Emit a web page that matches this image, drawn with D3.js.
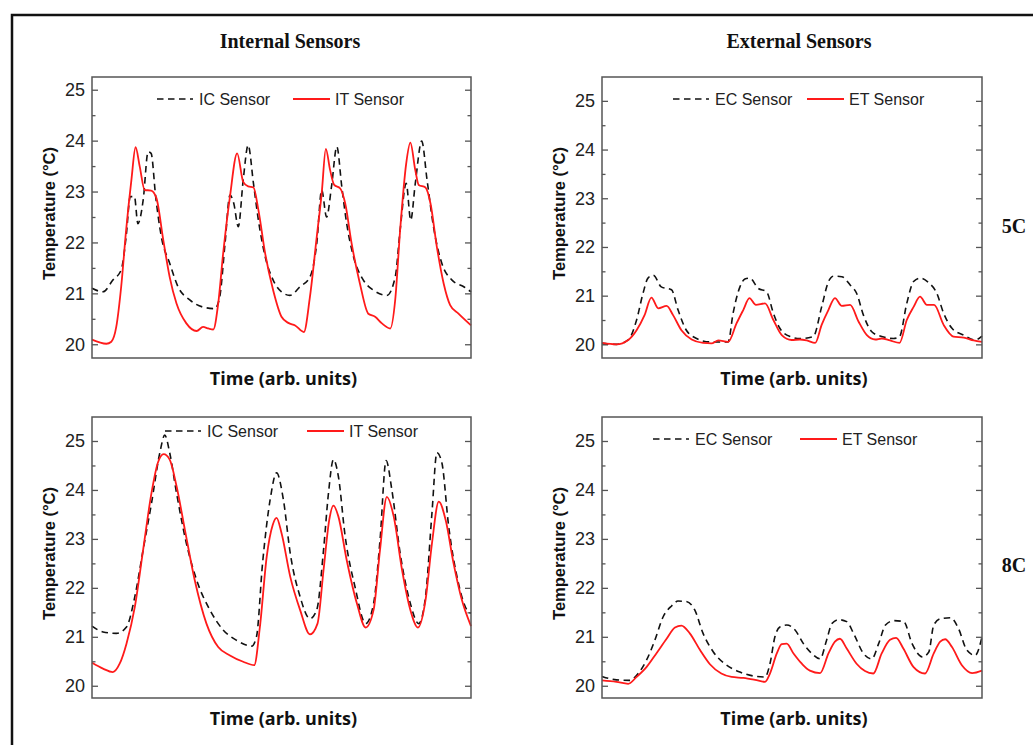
<!DOCTYPE html>
<html>
<head>
<meta charset="utf-8">
<script src="https://cdn.jsdelivr.net/npm/d3@7"></script>
<style>
  body { margin: 0; background: #fff; }
  svg { display: block; }
</style>
</head>
<body>
<svg id="chart" width="1033" height="745"></svg>
<script>
// ---- data (time in arbitrary units 0..100, temperature in °C) ----

// 5C internal
const icTime5 = [0,2.9,5.5,7.7,9.0,10.1,11.2,12.1,13.5,14.8,15.6,16.8,18.3,20.5,22.7,25.8,29.3,32.4,33.7,35.1,36.4,37.4,38.6,39.9,41.2,42.6,43.9,45.7,47.8,50.0,52.2,54.9,57.5,59.3,60.6,61.9,63.2,64.6,65.9,67.2,69.0,71.6,74.3,77.8,80.0,81.3,82.9,84.1,85.3,87.0,88.4,90.1,92.3,95.0,98.1,100];
const icTemp5 = [21.1,21.03,21.26,21.46,22.11,22.9,22.9,22.37,22.83,23.78,23.75,22.9,22.11,21.59,21.13,20.87,20.73,20.7,20.93,21.98,22.93,22.77,22.31,23.23,23.91,23.16,22.44,21.72,21.26,21.03,20.96,21.13,21.32,21.98,23.03,22.5,23.1,23.88,23.1,22.37,21.72,21.26,21.06,20.96,21.32,22.24,23.16,22.44,23.16,23.99,23.23,22.31,21.59,21.26,21.13,21.03];
const itTime5 = [0,3.8,5.1,6.4,7.7,9.0,10.4,11.5,12.6,13.9,15.6,17.0,18.8,20.5,22.3,24.9,27.6,29.3,30.7,32.0,33.3,34.6,36.4,38.3,39.9,41.2,42.6,43.9,45.7,47.8,50.0,51.8,53.6,55.9,57.5,59.3,60.6,61.7,62.8,63.9,65.5,66.8,68.5,70.7,72.9,74.7,76.5,78.7,80.0,81.3,82.9,84.0,85.3,86.2,88.0,89.3,91.0,92.8,94.5,96.7,100];
const itTemp5 = [20.09,20.01,20.05,20.34,21.13,22.24,23.23,23.87,23.49,23.03,23.02,22.87,22.05,21.32,20.8,20.41,20.26,20.34,20.31,20.29,20.8,21.78,22.9,23.75,23.19,23.1,23.08,22.64,21.78,21.06,20.54,20.42,20.37,20.24,20.93,22.11,22.96,23.84,23.43,23.13,23.06,22.77,21.98,21.19,20.6,20.54,20.41,20.31,20.87,22.24,23.55,23.96,23.42,23.13,23.08,22.77,21.91,21.19,20.77,20.6,20.37];

// 5C external
const ecTime5 = [0,3.8,6.9,9.1,10.8,12.1,13.5,15.6,18.3,20.0,22.2,24.9,28.4,31.9,33.2,34.5,36.3,37.6,38.9,41.1,43.3,45.1,46.8,49.5,52.1,55.6,57.8,59.6,60.9,63.1,65.3,67.0,68.8,71.0,73.6,76.7,78.3,80.2,82.0,83.7,85.9,88.1,89.9,92.1,95.2,98.2,100];
const ecTemp5 = [20.02,20.0,20.09,20.5,21.05,21.36,21.42,21.18,21.12,20.71,20.29,20.12,20.05,20.05,20.05,20.64,21.18,21.34,21.36,21.15,21.08,20.64,20.33,20.16,20.12,20.16,20.77,21.29,21.4,21.39,21.22,21.05,20.6,20.26,20.16,20.12,20.16,20.84,21.29,21.36,21.27,21.05,20.64,20.33,20.19,20.09,20.17];
const etTime5 = [0,3.8,6.9,9.1,11.2,13.0,14.8,17.0,18.7,20.9,23.6,26.6,28.8,30.6,33.2,35.4,37.2,38.8,40.5,42.9,45.1,47.3,49.9,52.1,53.9,56.1,57.8,59.6,61.3,63.1,65.3,67.5,69.7,71.9,73.6,75.8,78.3,80.2,82.0,83.7,85.5,87.4,89.9,92.5,95.2,97.8,100];
const etTemp5 = [20.03,20.0,20.09,20.29,20.6,20.96,20.74,20.79,20.6,20.29,20.1,20.03,20.02,20.08,20.05,20.43,20.71,20.95,20.81,20.84,20.5,20.19,20.09,20.1,20.08,20.03,20.4,20.71,20.95,20.79,20.81,20.47,20.19,20.1,20.12,20.08,20.03,20.5,20.77,20.98,20.81,20.81,20.4,20.16,20.14,20.08,20.05];

// 8C internal
const icTime8 = [0,2.9,6.4,9.1,11.3,13.5,15.7,17.9,19.2,20.5,22.3,24.9,27.6,31.1,34.6,38.1,42.1,43.4,45.0,47.0,48.7,50.5,52.3,54.9,57.5,59.3,61.1,62.4,63.7,65.0,66.8,69.4,72.2,74.3,76.0,77.6,79.1,81.3,84.0,86.2,88.0,89.7,91.0,92.3,94.1,96.7,98.9,100];
const icTemp8 = [21.22,21.1,21.07,21.2,21.82,22.78,23.73,24.76,25.12,24.76,23.94,22.91,22.16,21.55,21.14,20.93,20.81,21.0,22.5,23.8,24.35,23.8,22.71,21.82,21.37,21.55,22.78,23.94,24.62,24.28,23.05,22.02,21.27,21.68,22.98,24.6,24.01,22.71,21.68,21.27,21.82,23.53,24.76,24.56,23.26,22.09,21.55,21.48];
const itTime8 = [0,2.9,5.5,7.3,9.1,11.3,13.5,15.7,17.4,18.9,20.5,22.3,24.5,27.1,30.2,33.3,36.4,39.9,42.8,44.3,46.1,47.7,48.7,50.0,52.3,54.9,57.5,59.5,61.1,62.6,63.7,65.0,67.2,69.9,72.2,74.3,76.0,77.8,79.6,81.8,84.0,86.0,88.0,89.7,91.5,93.3,95.4,97.6,100];
const itTemp8 = [20.47,20.35,20.28,20.45,20.86,21.61,22.78,23.94,24.56,24.73,24.62,24.08,23.19,22.16,21.27,20.79,20.62,20.49,20.42,21.2,22.64,23.29,23.43,23.12,22.23,21.55,21.05,21.27,22.37,23.39,23.68,23.46,22.57,21.68,21.19,21.55,22.78,23.86,23.46,22.37,21.55,21.19,21.75,22.91,23.76,23.39,22.5,21.75,21.22];

// 8C external
const ecTime8 = [0,3.8,7.3,9.5,11.7,13.9,16.1,18.3,20.0,22.2,24.4,26.6,29.3,32.3,36.3,39.8,42.9,44.2,45.5,46.8,48.6,50.8,53.0,55.2,57.4,59.1,60.5,62.2,64.4,66.2,68.8,71.0,72.8,74.6,76.8,79.4,81.6,84.3,86.0,87.3,89.1,91.7,93.8,96.0,98.2,100];
const ecTemp8 = [20.19,20.12,20.11,20.25,20.52,20.93,21.41,21.63,21.73,21.72,21.55,21.07,20.69,20.45,20.28,20.2,20.18,20.45,21.0,21.2,21.24,21.14,20.86,20.66,20.55,20.93,21.27,21.35,21.31,21.07,20.66,20.55,20.86,21.24,21.33,21.31,20.86,20.59,20.69,21.24,21.37,21.39,21.17,20.73,20.62,21.0];
const etTime8 = [0,3.8,6.9,9.1,11.7,14.3,17.0,19.2,20.9,23.1,25.8,28.4,31.4,34.1,37.2,40.3,42.9,44.2,46.0,47.3,48.6,50.4,52.6,54.7,57.4,59.6,61.3,62.6,64.4,67.0,69.2,71.4,73.6,75.8,77.4,79.3,82.0,85.0,87.3,89.0,90.3,92.1,94.7,97.4,100];
const etTemp8 = [20.11,20.08,20.04,20.18,20.38,20.66,20.96,21.19,21.23,21.07,20.73,20.44,20.25,20.18,20.16,20.12,20.08,20.25,20.66,20.85,20.86,20.66,20.45,20.31,20.26,20.66,20.9,20.96,20.76,20.45,20.3,20.25,20.66,20.94,20.98,20.76,20.38,20.25,20.66,20.9,20.95,20.79,20.42,20.26,20.31];

const yTicks = [20, 21, 22, 23, 24, 25];
const columnTitles = ["Internal Sensors", "External Sensors"];
const rowLabels = ["5C", "8C"];

// ---- layout ----
const svg = d3.select('#chart');

const panels = [
    { x0: 92,  x1: 471, y0: 77,  y1: 358, dom: [19.73, 25.25], legend: [65, 201, 99],
      dashed: { t: icTime5, v: icTemp5, name: "IC Sensor" }, solid: { t: itTime5, v: itTemp5, name: "IT Sensor" } },
    { x0: 602, x1: 982, y0: 77,  y1: 358, dom: [19.72, 25.49], legend: [71, 205, 99],
      dashed: { t: ecTime5, v: ecTemp5, name: "EC Sensor" }, solid: { t: etTime5, v: etTemp5, name: "ET Sensor" } },
    { x0: 92,  x1: 471, y0: 417, y1: 698, dom: [19.75, 25.49], legend: [73, 215, 431],
      dashed: { t: icTime8, v: icTemp8, name: "IC Sensor" }, solid: { t: itTime8, v: itTemp8, name: "IT Sensor" } },
    { x0: 602, x1: 982, y0: 417, y1: 698, dom: [19.75, 25.49], legend: [51, 198, 439],
      dashed: { t: ecTime8, v: ecTemp8, name: "EC Sensor" }, solid: { t: etTime8, v: etTemp8, name: "ET Sensor" } }
];

// outer frame
svg.append('rect')
    .attr('x', 12).attr('y', 15)
    .attr('width', 1100).attr('height', 800)
    .attr('fill', 'none')
    .attr('stroke', '#111')
    .attr('stroke-width', 2.5);

panels.forEach(p => {
    const x = d3.scaleLinear().domain([0, 100]).range([p.x0, p.x1]);
    const y = d3.scaleLinear().domain(p.dom).range([p.y1, p.y0]);
    const g = svg.append('g');

    // ticks, left and right, pointing inward
    const minor = d3.range(20, 25.51, 0.5).filter(v => v % 1 !== 0 && v >= p.dom[0] && v <= p.dom[1]);
    g.append('g')
        .attr('transform', 'translate(' + p.x0 + ',0)')
        .call(d3.axisRight(y).tickValues(yTicks).tickSize(6).tickFormat(''))
        .call(a => a.select('.domain').remove());
    g.append('g')
        .attr('transform', 'translate(' + p.x0 + ',0)')
        .call(d3.axisRight(y).tickValues(minor).tickSize(3.5).tickFormat(''))
        .call(a => a.select('.domain').remove());
    g.append('g')
        .attr('transform', 'translate(' + p.x1 + ',0)')
        .call(d3.axisLeft(y).tickValues(yTicks).tickSize(6).tickFormat(''))
        .call(a => a.select('.domain').remove());
    g.append('g')
        .attr('transform', 'translate(' + p.x1 + ',0)')
        .call(d3.axisLeft(y).tickValues(minor).tickSize(3.5).tickFormat(''))
        .call(a => a.select('.domain').remove());
    g.selectAll('.tick line').attr('stroke', '#555').attr('stroke-width', 1.3);

    // tick labels
    g.selectAll('text.ylab').data(yTicks)
        .join('text')
        .attr('class', 'ylab')
        .attr('x', p.x0 - 7)
        .attr('y', d => y(d))
        .attr('dy', '0.36em')
        .attr('text-anchor', 'end')
        .style('font-family', '"Liberation Sans", Arial, sans-serif')
        .style('font-size', '18px')
        .attr('fill', '#222')
        .text(d => d);

    // lines
    const line = d3.line()
        .x(d => x(d[0]))
        .y(d => y(d[1]))
        .curve(d3.curveMonotoneX);

    g.append('path')
        .datum(p.dashed.t.map((t, i) => [t, p.dashed.v[i]]))
        .attr('d', line)
        .attr('fill', 'none')
        .attr('stroke', '#111')
        .attr('stroke-width', 1.6)
        .attr('stroke-dasharray', '6.5,4.5');

    g.append('path')
        .datum(p.solid.t.map((t, i) => [t, p.solid.v[i]]))
        .attr('d', line)
        .attr('fill', 'none')
        .attr('stroke', '#ff1a1a')
        .attr('stroke-width', 1.8);

    // plot frame
    g.append('rect')
        .attr('x', p.x0).attr('y', p.y0)
        .attr('width', p.x1 - p.x0).attr('height', p.y1 - p.y0)
        .attr('fill', 'none')
        .attr('stroke', '#555')
        .attr('stroke-width', 1.5);

    // legend
    const lx = p.x0 + p.legend[0], rx = p.x0 + p.legend[1], ly = p.legend[2];
    g.append('line')
        .attr('x1', lx).attr('x2', lx + 36).attr('y1', ly).attr('y2', ly)
        .attr('stroke', '#111').attr('stroke-width', 1.6).attr('stroke-dasharray', '6.5,4.5');
    g.append('text')
        .attr('x', lx + 42).attr('y', ly).attr('dy', '0.36em')
        .style('font-family', '"Liberation Sans", Arial, sans-serif')
        .style('font-size', '16px').attr('fill', '#222')
        .text(p.dashed.name);
    g.append('line')
        .attr('x1', rx).attr('x2', rx + 37).attr('y1', ly).attr('y2', ly)
        .attr('stroke', '#ff1a1a').attr('stroke-width', 1.8);
    g.append('text')
        .attr('x', rx + 42).attr('y', ly).attr('dy', '0.36em')
        .style('font-family', '"Liberation Sans", Arial, sans-serif')
        .style('font-size', '16px').attr('fill', '#222')
        .text(p.solid.name);

    // axis titles
    g.append('text')
        .attr('transform', 'translate(' + (p.x0 - 37) + ',' + ((p.y0 + p.y1) / 2 - 4) + ') rotate(-90)')
        .attr('text-anchor', 'middle')
        .style('font-family', '"Liberation Sans", Arial, sans-serif')
        .style('font-size', '16.5px').style('font-weight', 'bold')
        .attr('fill', '#111')
        .text('Temperature (°C)');
    g.append('text')
        .attr('x', (p.x0 + p.x1) / 2 + 2)
        .attr('y', p.y1 + 27)
        .attr('text-anchor', 'middle')
        .style('font-family', '"Open Sans", sans-serif')
        .style('font-size', '18px').style('font-weight', 'bold')
        .attr('fill', '#111')
        .text('Time (arb. units)');
});

// column titles and row labels
svg.selectAll('text.coltitle').data(columnTitles)
    .join('text')
    .attr('class', 'coltitle')
    .attr('x', (d, i) => [290, 799][i])
    .attr('y', 48)
    .attr('text-anchor', 'middle')
    .style('font-family', '"Liberation Serif", "Times New Roman", serif')
    .style('font-size', '20px').style('font-weight', 'bold')
    .attr('fill', '#111')
    .text(d => d);

svg.selectAll('text.rowlabel').data(rowLabels)
    .join('text')
    .attr('class', 'rowlabel')
    .attr('x', 1014)
    .attr('y', (d, i) => [233, 572][i])
    .attr('text-anchor', 'middle')
    .style('font-family', '"Liberation Serif", "Times New Roman", serif')
    .style('font-size', '20px').style('font-weight', 'bold')
    .attr('fill', '#111')
    .text(d => d);
</script>
</body>
</html>
